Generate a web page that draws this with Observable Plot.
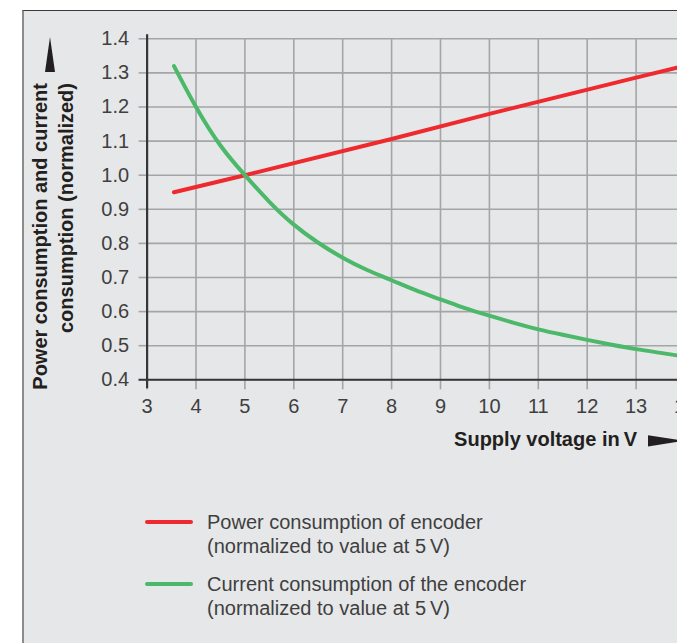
<!DOCTYPE html>
<html>
<head>
<meta charset="utf-8">
<script src="https://cdn.jsdelivr.net/npm/d3@7"></script>
<script src="https://cdn.jsdelivr.net/npm/@observablehq/plot@0.6"></script>
<style>
  html, body { margin: 0; padding: 0; background: #fff; width: 677px; height: 643px; overflow: hidden; }
  #box { position: absolute; left: 22px; top: 10px; width: 700px; height: 700px; background: #e6e7e9;
         border-top: 1.5px solid #3a3a3a; border-left: 2px solid #8c8c8c; }
  #chart { position: absolute; left: 0; top: 0; width: 720px; height: 643px; }
  #chart svg { max-width: none !important; width: 720px !important; height: 643px !important; }
  #overlay { position: absolute; left: 0; top: 0; }
  .leg { position: absolute; left: 207px; font: 20px "Liberation Sans", Arial, sans-serif; line-height: 24px; color: #3f3f3f; white-space: nowrap; }
  .sw { position: absolute; left: 145px; width: 48px; height: 4px; border-radius: 2px; }
</style>
</head>
<body>
<div id="box"></div>
<div id="chart"></div>
<svg id="overlay" width="720" height="643"></svg>
<div class="sw" style="top:520px;background:#ee2a2e"></div>
<div class="leg" id="leg1" style="top:510px"></div>
<div class="sw" style="top:582px;background:#4cb86a"></div>
<div class="leg" id="leg2" style="top:572px"></div>
<script>
// ---- data ----
const xTicks = [3, 4, 5, 6, 7, 8, 9, 10, 11, 12, 13, 14];
const yTicks = [0.4, 0.5, 0.6, 0.7, 0.8, 0.9, 1.0, 1.1, 1.2, 1.3, 1.4];

const powerVoltage = [3.55, 5, 8, 10, 13, 14];
const powerValue   = [0.95, 1.0, 1.106, 1.18, 1.286, 1.321];

const currentVoltage = [3.55, 4, 4.5, 5, 5.5, 6, 6.5, 7, 7.5, 8, 8.5, 9, 9.5, 10, 10.5, 11, 11.5, 12, 12.5, 13, 13.5, 14];
const currentValue   = [1.32, 1.2, 1.087, 1.0, 0.922, 0.855, 0.802, 0.758, 0.722, 0.692, 0.662, 0.636, 0.61, 0.588, 0.567, 0.548, 0.532, 0.517, 0.503, 0.49, 0.479, 0.468];

const xLabel = "Supply voltage in\u2009V";
const yLabelLines = ["Power consumption and current", "consumption (normalized)"];
const legendTexts = [
  ["Power consumption of encoder", "(normalized to value at 5\u2009V)"],
  ["Current consumption of the encoder", "(normalized to value at 5\u2009V)"]
];

const power = powerVoltage.map((v, i) => ({v, y: powerValue[i]}));
const current = currentVoltage.map((v, i) => ({v, y: currentValue[i]}));

const gridColor = "#a4a5a7";
const axisColor = "#363636";
const textColor = "#3f3f3f";

const chart = Plot.plot({
  width: 720,
  height: 643,
  marginLeft: 146.6,
  marginRight: 35.5,
  marginTop: 38.3,
  marginBottom: 263.7,
  style: {fontFamily: "'Liberation Sans', Arial, sans-serif", fontSize: "20px", background: "transparent", color: textColor, maxWidth: "none"},
  x: {domain: [3, 14]},
  y: {domain: [0.4, 1.4]},
  marks: [
    Plot.gridX(xTicks, {stroke: gridColor, strokeOpacity: 1, strokeWidth: 1.6}),
    Plot.gridY(yTicks, {stroke: gridColor, strokeOpacity: 1, strokeWidth: 1.6}),
    Plot.axisX(xTicks, {tickSize: 10, tickPadding: 9, stroke: gridColor, strokeWidth: 1.6, fill: textColor, label: null, tickFormat: d => String(d)}),
    Plot.axisY(yTicks, {tickSize: 8, tickPadding: 10, stroke: gridColor, strokeWidth: 1.6, fill: textColor, label: null, tickFormat: d => d.toFixed(1)}),
    Plot.ruleY([0.4], {stroke: axisColor, strokeWidth: 2, insetLeft: -8}),
    Plot.ruleX([3], {stroke: axisColor, strokeWidth: 2.2, insetTop: -4, insetBottom: -9}),
    Plot.line(power, {x: "v", y: "y", stroke: "#ee2a2e", strokeWidth: 4, strokeLinecap: "round"}),
    Plot.line(current, {x: "v", y: "y", stroke: "#4cb86a", strokeWidth: 4, strokeLinecap: "round", curve: "natural"})
  ]
});
document.getElementById("chart").appendChild(chart);

// ---- axis titles and arrows ----
const ov = d3.select("#overlay");
const boldFont = "'Liberation Sans', Arial, sans-serif";
ov.append("text")
  .attr("x", 637).attr("y", 445.5)
  .attr("text-anchor", "end")
  .attr("font-family", boldFont).attr("font-weight", "bold").attr("font-size", 20)
  .attr("fill", "#231f20")
  .text(xLabel);
ov.append("polygon")
  .attr("points", "648,435.2 648,446.4 684,440.8")
  .attr("fill", "#231f20");

[46.7, 72.8].forEach((bx, i) => {
  ov.append("text")
    .attr("transform", `translate(${bx},83) rotate(-90)`)
    .attr("text-anchor", "end")
    .attr("font-family", boldFont).attr("font-weight", "bold").attr("font-size", 20)
    .attr("fill", "#231f20")
    .text(yLabelLines[i]);
});
ov.append("polygon")
  .attr("points", "50,37 45,72 55,72")
  .attr("fill", "#231f20");

// ---- legend ----
document.getElementById("leg1").innerHTML = legendTexts[0].join("<br>");
document.getElementById("leg2").innerHTML = legendTexts[1].join("<br>");
</script>
</body>
</html>
